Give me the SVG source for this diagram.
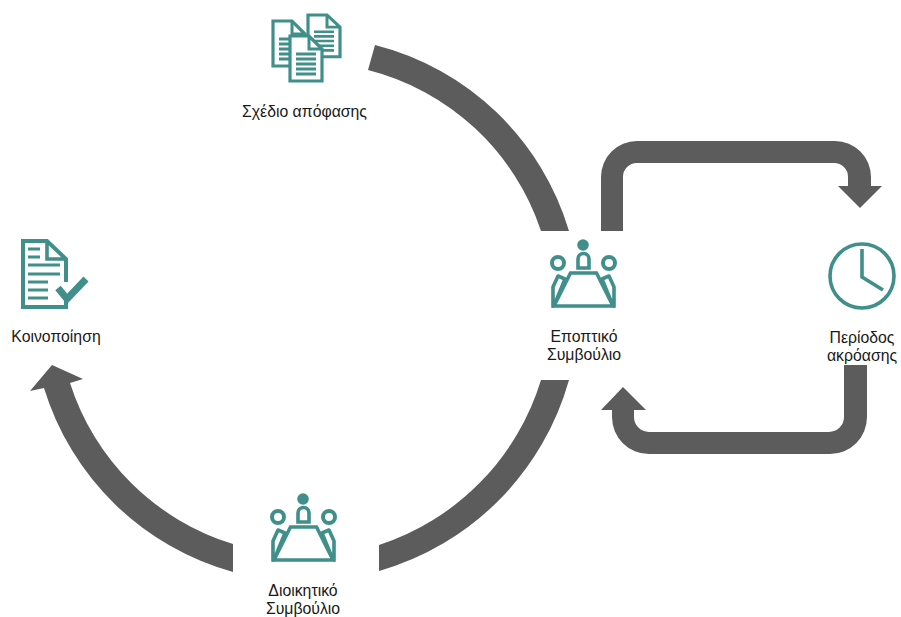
<svg xmlns="http://www.w3.org/2000/svg" width="901" height="617" viewBox="0 0 901 617">
<style>
.t{font-family:"Liberation Sans",Arial,sans-serif;font-size:15.800px;fill:#1a1a1a;text-anchor:middle}
.c{fill:#5c5c5c}
.i{fill:none;stroke:#3f8f8a;stroke-width:3.600}
.il{fill:none;stroke:#3f8f8a;stroke-width:2.800}
.w{fill:#fff;stroke:#3f8f8a;stroke-width:3.200}
.f{fill:#3f8f8a}
</style>
<defs>
<filter id="soft" x="-10%" y="-10%" width="120%" height="120%"><feGaussianBlur stdDeviation="0.45"/></filter>
<g id="board">
<circle cx="583" cy="245" r="5.800" class="f"/>
<circle cx="558" cy="263" r="6" class="i" style="stroke-width:4"/>
<circle cx="609" cy="263" r="6" class="i" style="stroke-width:4"/>
<path d="M578 268V259a5.500 5.500 0 0 1 11 0V268Z" class="i"/>
<path d="M553 306V287L558 276L565 279L556 301Z" class="i" stroke-linejoin="round"/>
<path d="M614 306V287L609 276L602 279L611 301Z" class="i" stroke-linejoin="round"/>
<path d="M570.500 273H596.500L613 306H554Z" class="w" style="stroke-width:3.600"/>
</g>
<g id="doc">
<path d="M0 0H19L32 13V45H0Z" class="w"/>
<path d="M19 0V13H32" class="i" style="stroke-width:3"/>
<path d="M6 18H26M6 23H26M6 28H26M6 33H26M6 38H26" class="il"/>
</g>
</defs>
<g id="connectors">
<path class="c" d="M375 45A272 272 0 0 1 569 231H541A246 246 0 0 0 368 70Z"/>
<path class="c" d="M569 380A276 276 0 0 1 379 571V545A250 250 0 0 0 541 380Z"/>
<path class="c" d="M233 572A274 274 0 0 1 44 388L30 391L52 365L83 379L70 383A247 247 0 0 0 233 544Z"/>
<path class="c" d="M601 231V177A36 36 0 0 1 637 141H835A36 36 0 0 1 871 177V186H882L860 208L838 186H848V177A14 14 0 0 0 834 163H637A14 14 0 0 0 623 177V231Z"/>
<path class="c" d="M867 365V417A37 37 0 0 1 830 454H649A37 37 0 0 1 612 417V410H601L623 387L646 410H634V417A15 15 0 0 0 649 432H829A15 15 0 0 0 844 417V365Z"/>
</g>
<g id="draft">
<g filter="url(#soft)">
<use href="#doc" transform="translate(273,21)"/>
<use href="#doc" transform="translate(308,15) scale(1,.93)"/>
<use href="#doc" transform="translate(290,36)"/>
</g>
<text class="t" x="304.500" y="117">Σχέδιο απόφασης</text>
</g>
<g id="notification">
<g filter="url(#soft)">
<path class="i" style="stroke-width:4" d="M66 282V259L47 241H23V307H66V300"/>
<path class="i" d="M47 241V259H66"/>
<path class="il" style="stroke-width:3" d="M28 249H40M28 257H40M28 265H60M28 274H60M28 282H48M28 290H48M28 298H48"/>
<path d="M58 288L67 299L86 279" fill="none" stroke="#3f8f8a" stroke-width="7"/>
</g>
<text class="t" x="56" y="342">Κοινοποίηση</text>
</g>
<g id="supervisory">
<use href="#board" filter="url(#soft)"/>
<text class="t" x="584" y="342">Εποπτικό</text>
<text class="t" x="584" y="360">Συμβούλιο</text>
</g>
<g id="management">
<use href="#board" transform="translate(-280,254)" filter="url(#soft)"/>
<text class="t" x="303" y="596">Διοικητικό</text>
<text class="t" x="303" y="614">Συμβούλιο</text>
</g>
<g id="hearing">
<g filter="url(#soft)">
<circle cx="862" cy="276" r="32" class="i"/>
<path d="M862 249V277L883 290" class="i"/>
</g>
<text class="t" x="862" y="343">Περίοδος</text>
<text class="t" x="862" y="361">ακρόασης</text>
</g>
</svg>
